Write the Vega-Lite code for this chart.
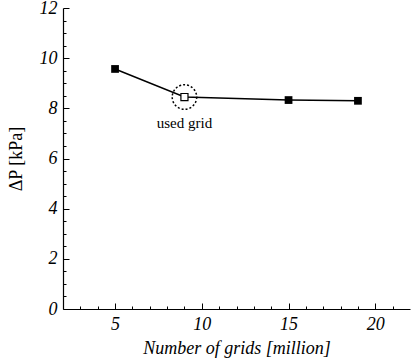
{
  "$schema": "https://vega.github.io/schema/vega-lite/v6.json",
  "width": 347,
  "height": 301,
  "autosize": {"type": "none"},
  "padding": {"left": 63, "top": 8, "right": 4, "bottom": 52},
  "background": "white",
  "config": {
    "view": {"stroke": null},
    "axis": {
      "grid": false,
      "domainColor": "black",
      "domainWidth": 1.2,
      "tickColor": "black",
      "tickWidth": 1,
      "labelColor": "black",
      "titleColor": "black",
      "labelFont": "Liberation Serif",
      "titleFont": "Liberation Serif",
      "labelFontSize": 18,
      "labelFontStyle": "italic",
      "titleFontWeight": "normal",
      "titleFontSize": 18
    }
  },
  "datasets": {
    "pts": [
      {"grids": 5, "dp": 9.57, "kind": "other"},
      {"grids": 9, "dp": 8.45, "kind": "used"},
      {"grids": 15, "dp": 8.33, "kind": "other"},
      {"grids": 19, "dp": 8.3, "kind": "other"}
    ],
    "ann": [{"grids": 9, "dp": 8.45, "label": "used grid", "ly": 7.42}]
  },
  "layer": [
    {
      "data": {"name": "pts"},
      "mark": {"type": "line", "color": "black", "strokeWidth": 1.5},
      "encoding": {
        "x": {
          "field": "grids", "type": "quantitative",
          "scale": {"domain": [2, 22], "nice": false, "zero": false},
          "axis": {"orient": "bottom", "values": [5, 10, 15, 20], "tickSize": -6, "labelPadding": 12, "title": "Number of grids [million]", "titleFontStyle": "italic", "titlePadding": 6}
        },
        "y": {
          "field": "dp", "type": "quantitative",
          "scale": {"domain": [0, 12], "nice": false, "zero": true},
          "axis": {"orient": "left", "values": [0, 2, 4, 6, 8, 10, 12], "tickSize": -6, "labelPadding": 12, "title": "ΔP [kPa]", "titlePadding": 14}
        }
      }
    },
    {
      "data": {"name": "pts"},
      "mark": {"type": "point", "opacity": 0},
      "encoding": {
        "x": {
          "field": "grids", "type": "quantitative",
          "scale": {"domain": [2, 22], "nice": false, "zero": false},
          "axis": {"orient": "bottom", "values": [3, 4, 6, 7, 8, 9, 11, 12, 13, 14, 16, 17, 18, 19, 21], "tickSize": -3, "labels": false, "domain": false, "title": null}
        },
        "y": {
          "field": "dp", "type": "quantitative",
          "scale": {"domain": [0, 12], "nice": false, "zero": true},
          "axis": {"orient": "left", "values": [0.5, 1, 1.5, 2.5, 3, 3.5, 4.5, 5, 5.5, 6.5, 7, 7.5, 8.5, 9, 9.5, 10.5, 11, 11.5], "tickSize": -3, "labels": false, "domain": false, "title": null}
        }
      }
    },
    {
      "data": {"name": "pts"},
      "transform": [{"filter": "datum.kind === 'other'"}],
      "mark": {"type": "square", "color": "black", "filled": true, "size": 60, "opacity": 1},
      "encoding": {
        "x": {"field": "grids", "type": "quantitative", "axis": null},
        "y": {"field": "dp", "type": "quantitative", "axis": null}
      }
    },
    {
      "data": {"name": "pts"},
      "transform": [{"filter": "datum.kind === 'used'"}],
      "mark": {"type": "square", "fill": "white", "stroke": "black", "strokeWidth": 1.2, "filled": true, "size": 50, "opacity": 1},
      "encoding": {
        "x": {"field": "grids", "type": "quantitative", "axis": null},
        "y": {"field": "dp", "type": "quantitative", "axis": null}
      }
    },
    {
      "data": {"name": "ann"},
      "mark": {"type": "point", "shape": "circle", "filled": false, "stroke": "black", "strokeWidth": 1.5, "strokeDash": [2, 2], "size": 600, "opacity": 1},
      "encoding": {
        "x": {"field": "grids", "type": "quantitative", "axis": null},
        "y": {"field": "dp", "type": "quantitative", "axis": null}
      }
    },
    {
      "data": {"name": "ann"},
      "mark": {"type": "text", "font": "Liberation Serif", "fontSize": 15, "color": "black", "baseline": "middle", "align": "center"},
      "encoding": {
        "x": {"field": "grids", "type": "quantitative", "axis": null},
        "y": {"field": "ly", "type": "quantitative", "axis": null},
        "text": {"field": "label"}
      }
    }
  ],
  "resolve": {"axis": {"x": "independent", "y": "independent"}}
}
